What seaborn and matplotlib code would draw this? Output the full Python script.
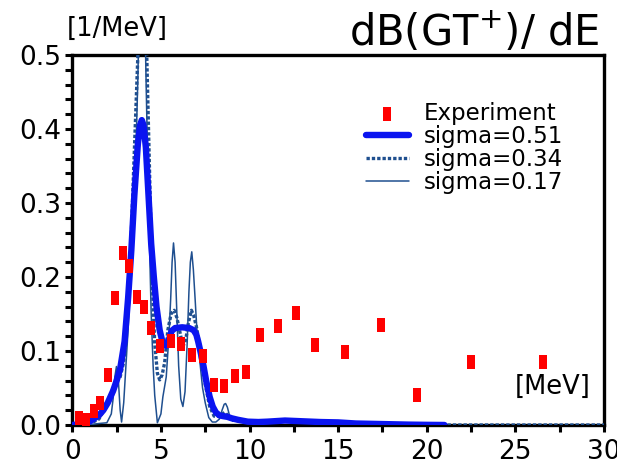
import numpy as np
import pandas as pd
import matplotlib
matplotlib.use("Agg")
import matplotlib.pyplot as plt
import seaborn as sns

# ---- data ----
exp_x = [0.39, 0.77, 1.2, 1.58, 2.0, 2.39, 2.84, 3.21, 3.65, 4.02, 4.44, 4.93, 5.56, 6.15,
         6.75, 7.37, 7.97, 8.57, 9.19, 9.79, 10.6, 11.63, 12.65, 13.67, 15.4, 17.42,
         19.45, 22.5, 26.56]
exp_y = [0.009, 0.007, 0.019, 0.030, 0.067, 0.172, 0.232, 0.215, 0.173, 0.160, 0.131, 0.107,
         0.113, 0.110, 0.095, 0.093, 0.054, 0.053, 0.066, 0.072, 0.121, 0.134, 0.152, 0.108,
         0.098, 0.135, 0.041, 0.085, 0.085]

s51_x = [0, 0.5, 1.0, 1.5, 1.75, 2.0, 2.3, 2.5, 2.7, 2.95, 3.15, 3.33, 3.5, 3.7, 3.82, 3.92,
         4.02, 4.15, 4.3, 4.45, 4.6, 4.75, 4.93, 5.1, 5.3, 5.45, 5.6, 5.8, 6.2, 6.6, 6.85, 7.0,
         7.1, 7.27, 7.4, 7.55, 7.75, 7.92, 8.1, 8.3, 8.5, 8.75, 9.0, 9.35, 9.9, 10.5, 11.0,
         12.0, 13.0, 14.0, 15.0, 16.0, 17.0, 18.0, 19.0, 20.0, 21.0]
s51_y = [0, 0.001, 0.005, 0.013, 0.02, 0.03, 0.046, 0.06, 0.076, 0.113, 0.172, 0.236, 0.31,
         0.38, 0.405, 0.412, 0.405, 0.375, 0.31, 0.245, 0.2, 0.16, 0.128, 0.111, 0.107, 0.115,
         0.127, 0.131, 0.132, 0.131, 0.128, 0.122, 0.113, 0.095, 0.08, 0.06, 0.038, 0.025,
         0.017, 0.013, 0.012, 0.011, 0.009, 0.007, 0.0045, 0.004, 0.0045, 0.006, 0.005, 0.004,
         0.0035, 0.002, 0.0015, 0.001, 0.0005, 0.0002, 0.0]

s34_x = [0, 1.0, 1.5, 2.0, 2.3, 2.5, 2.7, 2.9, 3.1, 3.3, 3.5, 3.7, 3.95, 4.2, 4.35, 4.5, 4.65,
         4.8, 4.93, 5.07, 5.21, 5.39, 5.58, 5.75, 5.9, 6.05, 6.24, 6.4, 6.55, 6.72, 6.85, 7.0,
         7.27, 7.5, 7.75, 8.0, 8.3, 8.6, 8.9, 9.3, 10.0, 11.0, 12.0, 13.0, 14.0, 15.0, 16.0,
         17.0, 18.0, 19.0, 20.0, 21.0, 30.0]
s34_y = [0, 0.002, 0.008, 0.03, 0.05, 0.058, 0.065, 0.085, 0.14, 0.24, 0.37, 0.5, 0.62, 0.5,
         0.35, 0.2, 0.11, 0.07, 0.061, 0.068, 0.084, 0.128, 0.151, 0.155, 0.145, 0.128, 0.106,
         0.115, 0.138, 0.155, 0.148, 0.133, 0.097, 0.055, 0.025, 0.012, 0.012, 0.017, 0.01,
         0.006, 0.004, 0.005, 0.006, 0.005, 0.004, 0.0035, 0.002, 0.0015, 0.001, 0.0005,
         0.0002, 0, 0]

s17_x = [0, 1.0, 1.5, 1.95, 2.2, 2.3, 2.4, 2.49, 2.6, 2.7, 2.78, 2.9, 3.0, 3.15, 3.3, 3.45,
         3.6, 3.7, 3.8, 3.93, 4.05, 4.15, 4.25, 4.35, 4.45, 4.56, 4.65, 4.8, 5.0, 5.11, 5.3,
         5.45, 5.55, 5.63, 5.71, 5.8, 5.9, 6.0, 6.12, 6.24, 6.36, 6.48, 6.58, 6.66, 6.74, 6.83,
         6.93, 7.05, 7.2, 7.35, 7.5, 7.7, 7.9, 8.1, 8.3, 8.45, 8.57, 8.65, 8.75, 8.9, 9.05,
         9.3, 10.0, 11.0, 12.0, 13.0, 14.0, 15.0, 16.0, 17.0, 18.0, 19.0, 20.0, 21.0]
s17_y = [0, 0.0005, 0.002, 0.003, 0.015, 0.035, 0.065, 0.079, 0.06, 0.02, 0.004, 0.03, 0.07,
         0.13, 0.2, 0.27, 0.38, 0.47, 0.6, 0.75, 0.62, 0.48, 0.36, 0.25, 0.15, 0.08, 0.04,
         0.003, 0.015, 0.038, 0.065, 0.12, 0.17, 0.22, 0.246, 0.22, 0.15, 0.08, 0.035, 0.025,
         0.045, 0.11, 0.18, 0.22, 0.234, 0.21, 0.17, 0.12, 0.085, 0.05, 0.03, 0.01, 0.004,
         0.004, 0.008, 0.02, 0.028, 0.029, 0.024, 0.01, 0.005, 0.006, 0.004, 0.0045, 0.006,
         0.005, 0.004, 0.0035, 0.002, 0.0015, 0.001, 0.0005, 0.0002, 0.0]

labels = ["Experiment", "sigma=0.51", "sigma=0.34", "sigma=0.17"]
x_ticks = [0, 5, 10, 15, 20, 25, 30]
y_ticks = [0.0, 0.1, 0.2, 0.3, 0.4, 0.5]

# ---- styling ----
sns.set_style("ticks")
plt.rcParams["font.family"] = ["DejaVu Sans"]
plt.rcParams["mathtext.fontset"] = "dejavusans"
plt.rcParams["text.color"] = "black"
plt.rcParams["xtick.labelcolor"] = "black"
plt.rcParams["ytick.labelcolor"] = "black"

fig = plt.figure(figsize=(6.17, 4.72), dpi=100)
ax = fig.add_axes([0.1172, 0.0996, 0.8617, 0.7839])

thick_c = "#0a14f0"
dark_c = "#1f4f8f"

df51 = pd.DataFrame({"x": s51_x, "y": s51_y})
df34 = pd.DataFrame({"x": s34_x, "y": s34_y})
df17 = pd.DataFrame({"x": s17_x, "y": s17_y})
dfe = pd.DataFrame({"x": exp_x, "y": exp_y})

sns.lineplot(data=df17, x="x", y="y", ax=ax, color=dark_c, lw=1.1, sort=False,
             label=labels[3], zorder=3)
sns.lineplot(data=df34, x="x", y="y", ax=ax, color=dark_c, lw=2.4, sort=False,
             linestyle=(0, (1.0, 0.6)), label=labels[2], zorder=4)
sns.lineplot(data=df51, x="x", y="y", ax=ax, color=thick_c, lw=4.6, sort=False,
             label=labels[1], zorder=5)

rect = [(-0.27, -0.5), (0.27, -0.5), (0.27, 0.5), (-0.27, 0.5), (-0.27, -0.5)]
sns.scatterplot(data=dfe, x="x", y="y", ax=ax, color="#ff0000", marker=rect, s=110,
                linewidth=0, label=labels[0], zorder=6)

ax.set_xlim(0, 30)
ax.set_ylim(0, 0.5)
ax.set_xticks(x_ticks)
ax.set_xticklabels([str(v) for v in x_ticks])
ax.set_yticks(y_ticks)
ax.set_yticklabels([f"{v:.1f}" for v in y_ticks])
ax.set_xticks(np.arange(2.5, 30, 5), minor=True)
ax.set_yticks(np.arange(0.02, 0.5, 0.02), minor=True)
ax.tick_params(axis="both", which="both", direction="out", width=2.2, length=5,
               color="black", labelcolor="black")
ax.tick_params(axis="x", which="major", labelsize=19, pad=5)
ax.tick_params(axis="y", which="major", labelsize=19, pad=3)
for sp in ax.spines.values():
    sp.set_visible(True)
    sp.set_linewidth(2.4)
    sp.set_color("black")
ax.set_xlabel("")
ax.set_ylabel("")

h, l = ax.get_legend_handles_labels()
order = [l.index(n) for n in labels]
leg = ax.legend([h[i] for i in order], [l[i] for i in order], loc="upper left",
                bbox_to_anchor=(0.53, 0.905), frameon=False, fontsize=16.5,
                handlelength=1.9, handletextpad=0.65, labelspacing=0.0, borderpad=0.0,
                labelcolor="black")

fig.text(0.108, 0.938, "[1/MeV]", fontsize=18.5, ha="left", va="center", color="black")
fig.text(0.972, 0.932, "dB(GT$^{+}$)/ dE", fontsize=30, ha="right", va="center",
         color="black")
ax.text(0.975, 0.103, "[MeV]", transform=ax.transAxes, fontsize=18.5, ha="right",
        va="center", color="black")

fig.savefig("out.png", dpi=100)
